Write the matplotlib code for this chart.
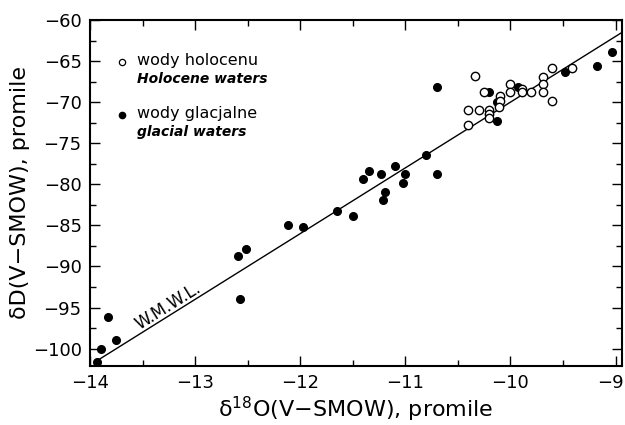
import matplotlib
matplotlib.use("Agg")
import matplotlib.pyplot as plt
import matplotlib.transforms as mtransforms
from matplotlib.ticker import MultipleLocator

# glacial waters (filled)
glac_o18 = [-13.93, -13.90, -13.83, -13.75, -12.59, -12.52, -12.57, -12.12, -11.97,
            -11.65, -11.50, -11.40, -11.35, -11.23, -11.19, -11.21, -11.10, -11.00,
            -11.02, -10.80, -10.70, -10.70, -10.20, -10.13, -10.13, -9.93, -9.48,
            -9.18, -9.03]
glac_d = [-101.6, -100.0, -96.2, -99.0, -88.7, -87.9, -93.9, -84.9, -85.2,
          -83.2, -83.9, -79.4, -78.4, -78.8, -80.9, -81.9, -77.8, -78.8,
          -79.8, -76.4, -78.8, -68.1, -68.8, -72.3, -70.0, -68.1, -66.3,
          -65.6, -63.9]

# Holocene waters (open)
holo_o18 = [-10.34, -10.25, -10.40, -10.30, -10.20, -10.20, -10.20, -10.10, -10.10,
            -10.11, -10.40, -10.00, -10.00, -9.89, -9.89, -9.80, -9.69, -9.69,
            -9.69, -9.60, -9.60, -9.41]
holo_d = [-66.8, -68.8, -70.9, -70.9, -70.9, -71.4, -71.9, -69.3, -69.8,
          -70.6, -72.8, -67.8, -68.8, -68.4, -68.8, -68.8, -66.9, -67.8,
          -68.8, -69.8, -65.9, -65.9]

# W.M.W.L.: dD = 8 * d18O + 10
line_x = [-13.93, -8.94]
line_y = [8 * v + 10 for v in line_x]

fig = plt.figure(figsize=(6.25, 4.25), dpi=100)
ax = fig.add_axes([0.144, 0.139, 0.851, 0.814])

ax.plot(line_x, line_y, color="black", lw=1.0)
ax.plot(glac_o18, glac_d, "o", color="black", ms=5.5, ls="none")
ax.plot(holo_o18, holo_d, "o", mfc="white", mec="black", mew=1.0, ms=6, ls="none")

ax.text(-13.26, -94.8, "W.M.W.L.", rotation=32, ha="center", va="center",
        fontsize=12)

# legend drawn by hand
ax.plot([0.061], [0.879], "o", mfc="white", mec="black", mew=0.9, ms=4.5,
        transform=ax.transAxes, clip_on=False)
ax.plot([0.061], [0.725], "o", color="black", ms=4.5,
        transform=ax.transAxes, clip_on=False)
ax.text(0.088, 0.882, "wody holocenu", transform=ax.transAxes, fontsize=11.5, va="center")
ax.text(0.088, 0.829, "Holocene waters", transform=ax.transAxes, fontsize=10,
        va="center", weight="bold", style="italic")
ax.text(0.088, 0.731, "wody glacjalne", transform=ax.transAxes, fontsize=11.5, va="center")
ax.text(0.088, 0.676, "glacial waters", transform=ax.transAxes, fontsize=10,
        va="center", weight="bold", style="italic")

ax.set_xlim(-14, -8.94)
ax.set_ylim(-102.1, -60)
ax.xaxis.set_major_locator(MultipleLocator(1))
ax.xaxis.set_minor_locator(MultipleLocator(0.5))
ax.yaxis.set_major_locator(MultipleLocator(5))
ax.yaxis.set_minor_locator(MultipleLocator(2.5))
ax.tick_params(which="both", direction="in", top=True, right=True, labelsize=13, width=1.0)
ax.tick_params(which="major", length=7, pad=6)
ax.tick_params(which="minor", length=4)
for s in ax.spines.values():
    s.set_linewidth(1.5)

ax.set_xlabel("δ$^{18}$O(V−SMOW), promile", fontsize=16, labelpad=2)
ax.set_ylabel("δD(V−SMOW), promile", fontsize=16, labelpad=2)

# keep the "-9" label inside the figure
fig.canvas.draw()
last = ax.get_xticklabels()[-1]
for lab in ax.get_xticklabels():
    if lab.get_text().endswith("9"):
        lab.set_horizontalalignment("right")
        lab.set_transform(lab.get_transform() +
                          mtransforms.ScaledTranslation(8 / 100, 0, fig.dpi_scale_trans))

fig.savefig("out.png", dpi=100)
